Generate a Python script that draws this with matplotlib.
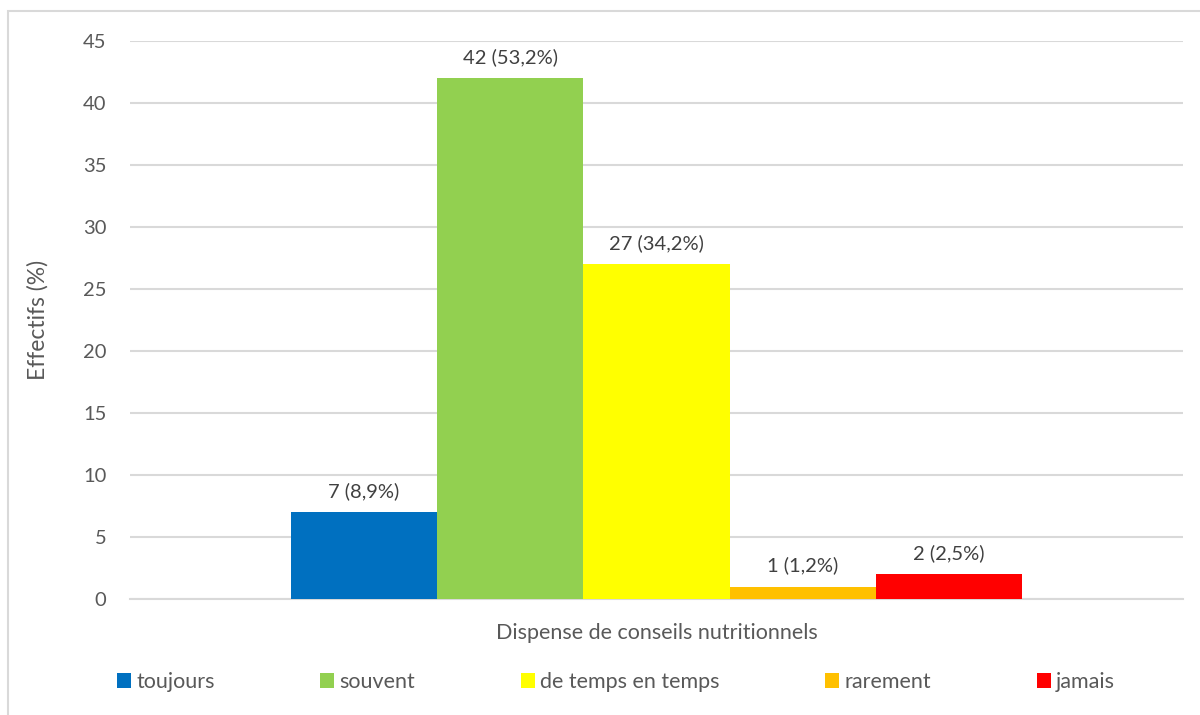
import numpy as np
import matplotlib.pyplot as plt
from matplotlib.patches import Rectangle

plt.rcParams['font.family'] = ['Lato', 'DejaVu Sans']

# données
categories = ['toujours', 'souvent', 'de temps en temps', 'rarement', 'jamais']
effectifs = [7, 42, 27, 1, 2]
pourcentages = ['8,9%', '53,2%', '34,2%', '1,2%', '2,5%']
couleurs = ['#0070C0', '#92D050', '#FFFF00', '#FFC000', '#FF0000']
yticks = [0, 5, 10, 15, 20, 25, 30, 35, 40, 45]

fig = plt.figure(figsize=(12, 7.15), dpi=100)
ax = fig.add_axes([0.1083, 0.1622, 0.8775, 0.7805])

# cadre du graphique
fig.patches.append(Rectangle((8/1200, -0.05), 1.2, 1 - 11/715 + 0.05,
                             transform=fig.transFigure, fill=False,
                             edgecolor='#d9d9d9', lw=1.5))

w = 0.139
n = len(categories)
for i, (cat, val, pct, col) in enumerate(zip(categories, effectifs, pourcentages, couleurs)):
    x = (i - (n - 1) / 2) * w
    b = ax.bar(x, val, width=w, color=col, label=cat, zorder=3)
    ax.bar_label(b, labels=['%d (%s)' % (val, pct)], padding=9,
                 fontsize=14.5, color='#404040')

ax.set_xlim(-0.5, 0.5)
ax.set_ylim(0, 45)
ax.set_yticks(yticks)
ax.set_xticks([])
ax.grid(axis='y', color='#d9d9d9', lw=1.5, zorder=0)
for s in ['top', 'right', 'left']:
    ax.spines[s].set_visible(False)
ax.spines['bottom'].set_color('#d9d9d9')
ax.spines['bottom'].set_linewidth(1.5)
ax.tick_params(axis='y', length=0, pad=17, labelsize=14.5, labelcolor='#595959')

ax.set_xlabel('Dispense de conseils nutritionnels', fontsize=15.5, color='#595959', labelpad=17)
ax.set_ylabel('Effectifs (%)', fontsize=16.5, color='#595959', labelpad=25)

leg = fig.legend(loc='center left', bbox_to_anchor=(117/1200, 0.046), ncol=5,
                 frameon=False, fontsize=15.5, handlelength=0.65, handleheight=0.65,
                 handletextpad=0.25, columnspacing=4.9, borderpad=0, borderaxespad=0,
                 labelcolor='#595959')

fig.savefig('out.png', dpi=100)
